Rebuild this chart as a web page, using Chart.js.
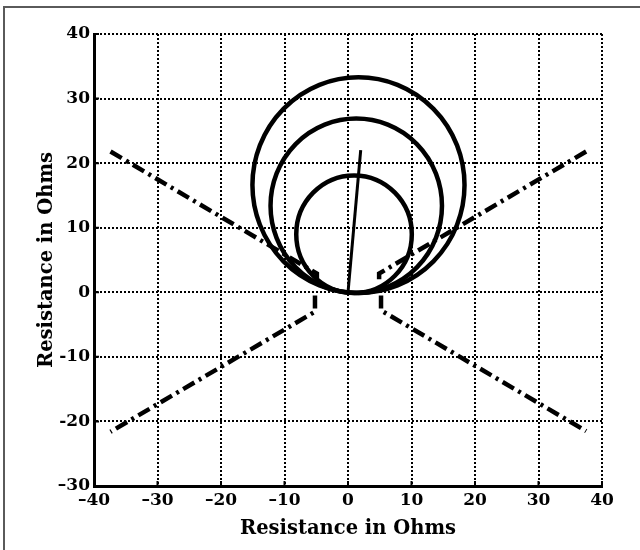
<!DOCTYPE html>
<html>
<head>
<meta charset="utf-8">
<title>Mho and quadrilateral characteristics</title>
<script src="https://cdn.jsdelivr.net/npm/chart.js@4.4.0/dist/chart.umd.min.js"></script>
<style>
  body { margin: 0; background: #fff; }
  #wrap { position: relative; width: 640px; height: 550px; }
  #frame { position: absolute; left: 3px; top: 6px; right: 0; bottom: 0;
           border-left: 2px solid #5a5a5a; border-top: 2px solid #5a5a5a; }
  #plot { position: absolute; left: 0; top: 0; }
</style>
</head>
<body>
<div id="wrap">
  <div id="frame"></div>
  <canvas id="plot" width="640" height="550"></canvas>
</div>
<script>
// axis ticks
const xTicks = [-40, -30, -20, -10, 0, 10, 20, 30, 40];
const xTickLabels = ['–40', '–30', '–20', '–10', '0', '10', '20', '30', '40'];
const yTicks = [-30, -20, -10, 0, 10, 20, 30, 40];
const yTickLabels = ['–30', '-20', '-10', '0', '10', '20', '30', '40'];

// mho circles: centre and radius in ohms (large, medium, small)
const circleCx = [1.65, 1.3, 0.95];
const circleCy = [16.6, 13.4, 9.0];
const circleR = [16.7, 13.5, 9.1];

// line impedance line
const lineX = [0, 2];
const lineY = [0, 22];

// quadrilateral boundaries (dash-dot)
const upperLeftX = [-37.4, -4.9, -4.9];
const upperLeftY = [21.8, 2.9, 2.0];
const lowerLeftX = [-5.2, -5.2, -37.4];
const lowerLeftY = [-0.5, -3.0, -21.6];
const upperRightX = [37.5, 4.9, 4.9];
const upperRightY = [21.8, 2.9, 2.0];
const lowerRightX = [5.2, 5.2, 37.5];
const lowerRightY = [-0.5, -2.8, -21.5];

const tickFont = { family: 'DejaVu Serif', size: 17, weight: 'bold' };
const titleFont = { family: 'DejaVu Serif', size: 19.5, weight: 'bold' };

function toPoints(xs, ys) {
    return xs.map((x, i) => ({ x: x, y: ys[i] }));
}

function dashDot(xs, ys) {
    return {
        data: toPoints(xs, ys),
        showLine: true,
        borderColor: '#000',
        borderWidth: 4.5,
        borderDash: [13, 5, 3, 5],
        pointRadius: 0,
        tension: 0
    };
}

// circles drawn on the chart area through the scales
const mhoCircles = {
    id: 'mhoCircles',
    afterDatasetsDraw(chart) {
        const { ctx, chartArea, scales: { x, y } } = chart;
        ctx.save();
        ctx.beginPath();
        ctx.rect(chartArea.left, chartArea.top, chartArea.right - chartArea.left, chartArea.bottom - chartArea.top);
        ctx.clip();
        ctx.strokeStyle = '#000';
        ctx.lineWidth = 4.5;
        circleCx.forEach((cx, i) => {
            const px = x.getPixelForValue(cx);
            const py = y.getPixelForValue(circleCy[i]);
            const rx = Math.abs(x.getPixelForValue(cx + circleR[i]) - px);
            const ry = Math.abs(y.getPixelForValue(circleCy[i] + circleR[i]) - py);
            ctx.beginPath();
            ctx.ellipse(px, py, rx, ry, 0, 0, Math.PI * 2);
            ctx.stroke();
        });
        ctx.restore();
    }
};

// short inward tick marks on the left and bottom axes
const innerTicks = {
    id: 'innerTicks',
    afterDraw(chart) {
        const { ctx, chartArea, scales: { x, y } } = chart;
        ctx.save();
        ctx.strokeStyle = '#000';
        ctx.lineWidth = 2;
        ctx.beginPath();
        xTicks.forEach(v => {
            const px = x.getPixelForValue(v);
            ctx.moveTo(px, chartArea.bottom);
            ctx.lineTo(px, chartArea.bottom - 5);
        });
        yTicks.forEach(v => {
            const py = y.getPixelForValue(v);
            ctx.moveTo(chartArea.left, py);
            ctx.lineTo(chartArea.left + 5, py);
        });
        ctx.stroke();
        ctx.restore();
    }
};

new Chart(document.getElementById('plot'), {
    type: 'scatter',
    data: {
        datasets: [
            {
                data: toPoints(lineX, lineY),
                showLine: true,
                borderColor: '#000',
                borderWidth: 3,
                pointRadius: 0
            },
            dashDot(upperLeftX, upperLeftY),
            dashDot(lowerLeftX, lowerLeftY),
            dashDot(upperRightX, upperRightY),
            dashDot(lowerRightX, lowerRightY)
        ]
    },
    options: {
        responsive: false,
        devicePixelRatio: 1,
        animation: false,
        layout: { padding: { left: 35, top: 34, right: 38, bottom: 0 } },
        plugins: {
            legend: { display: false },
            tooltip: { enabled: false }
        },
        scales: {
            x: {
                type: 'linear',
                min: -40,
                max: 40,
                afterBuildTicks: scale => { scale.ticks = xTicks.map(v => ({ value: v })); },
                afterFit: scale => { scale.height = 64; },
                ticks: {
                    color: '#000',
                    font: tickFont,
                    padding: 4,
                    maxRotation: 0,
                    callback: (value) => xTickLabels[xTicks.indexOf(value)]
                },
                grid: { color: '#000', lineWidth: 2, drawTicks: false },
                border: { color: '#000', width: 3, dash: [2, 2] },
                title: {
                    display: true,
                    text: 'Resistance in Ohms',
                    color: '#000',
                    font: titleFont,
                    padding: { top: 0, bottom: 9 }
                }
            },
            y: {
                type: 'linear',
                min: -30,
                max: 40,
                afterBuildTicks: scale => { scale.ticks = yTicks.map(v => ({ value: v })); },
                afterFit: scale => { scale.width = 59; },
                ticks: {
                    color: '#000',
                    font: tickFont,
                    padding: 4,
                    callback: (value) => yTickLabels[yTicks.indexOf(value)]
                },
                grid: { color: '#000', lineWidth: 2, drawTicks: false },
                border: { color: '#000', width: 3, dash: [2, 2] },
                title: {
                    display: true,
                    text: 'Resistance in Ohms',
                    color: '#000',
                    font: titleFont,
                    padding: { top: 0, bottom: 0 }
                }
            }
        }
    },
    plugins: [mhoCircles, innerTicks]
});
</script>
</body>
</html>
